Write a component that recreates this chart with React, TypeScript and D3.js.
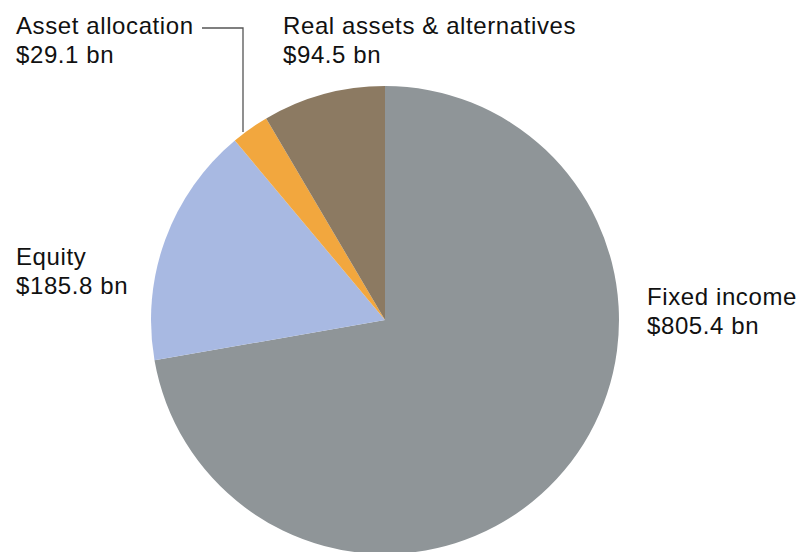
import React from "react";
import * as d3 from "d3";

const categories = ["Fixed income", "Equity", "Asset allocation", "Real assets & alternatives"];
const values = [805.4, 185.8, 29.1, 94.5];
const valueLabels = ["$805.4 bn", "$185.8 bn", "$29.1 bn", "$94.5 bn"];
const colors = ["#8f9598", "#a8b9e2", "#f2a73e", "#8c7a62"];

const W = 801;
const H = 552;
const cx = 385;
const cy = 320;
const R = 234;

export default function App() {
  const pie = d3.pie<number>().sort(null).value((d) => d)(values);
  const arc = d3.arc<d3.PieArcDatum<number>>().innerRadius(0).outerRadius(R);
  const labelPos: Record<string, [number, number]> = {
    "Fixed income": [647, 305],
    "Equity": [16, 265],
    "Asset allocation": [16, 34],
    "Real assets & alternatives": [283, 34],
  };
  const lx = 243;
  const ly = cy - Math.sqrt(R * R - (lx - cx) * (lx - cx)) - 2;
  return (
    <svg width={W} height={H} style={{ position: "absolute", left: 0, top: 0, background: "#fff" }}
      fontFamily="'Liberation Sans', Arial, sans-serif">
      <g transform={`translate(${cx},${cy})`}>
        {pie.map((p, i) => (
          <path key={categories[i]} d={arc(p) || ""} fill={colors[i]} />
        ))}
      </g>
      <polyline
        points={`202,28 ${lx},28 ${lx},${ly}`}
        fill="none" stroke="#555" strokeWidth={1.3} />
      {categories.map((c, i) => {
        const [x, y] = labelPos[c];
        return (
          <text key={c} x={x} y={y} fontSize={24} letterSpacing={0.6} fill="#111">
            <tspan x={x}>{c}</tspan>
            <tspan x={x} dy={29}>{valueLabels[i]}</tspan>
          </text>
        );
      })}
    </svg>
  );
}
